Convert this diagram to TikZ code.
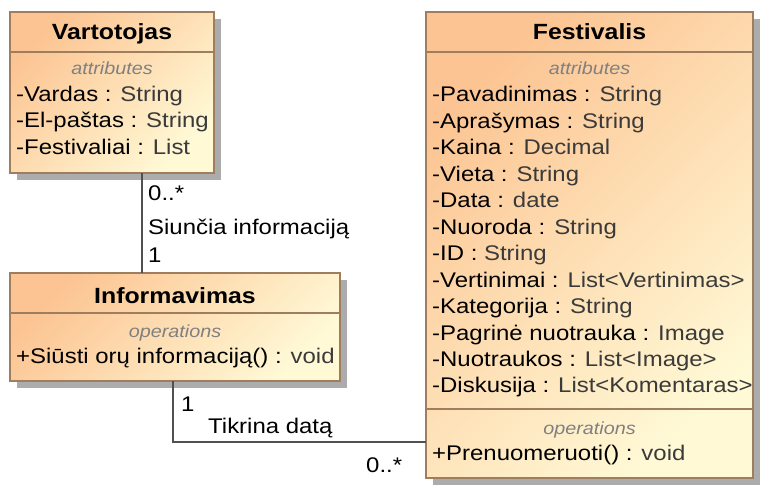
\documentclass[tikz,border=0pt]{standalone}
\usepackage{fontspec}
\setmainfont[FakeStretch=1.13]{Liberation Sans}
\usetikzlibrary{shadows}
\definecolor{orngA}{RGB}{252,196,146}
\definecolor{yelA}{RGB}{255,249,214}
\definecolor{bordc}{RGB}{158,126,94}
\definecolor{shadc}{RGB}{172,172,172}
\definecolor{typec}{RGB}{58,58,58}
\definecolor{stereoc}{RGB}{128,128,128}
\definecolor{linec}{RGB}{80,80,80}
\tikzset{
  umlbox/.style={draw=bordc, line width=1.8pt, rectangle, inner sep=0pt, outer sep=0pt,
    anchor=north west, top color=orngA, bottom color=yelA, shading angle=45,
    general shadow={shadow xshift=7pt, shadow yshift=-7pt, fill=shadc}},
  divider/.style={draw=bordc, line width=1.8pt},
  titletxt/.style={anchor=base, inner sep=0pt, font=\fontsize{22}{26}\selectfont\bfseries},
  stereotxt/.style={anchor=base, inner sep=0pt, text=stereoc, font=\fontsize{17.5}{22}\selectfont\itshape},
  membertxt/.style={anchor=base west, inner sep=0pt, font=\fontsize{21.2}{26}\selectfont},
  lbl/.style={anchor=base west, inner sep=0pt, font=\fontsize{21.2}{26}\selectfont},
  conn/.style={draw=linec, line width=1.6pt}
}
\begin{document}
\begin{tikzpicture}[x=1pt,y=-1pt]
\useasboundingbox (0,0) rectangle (769,495);
% boxes
\node[umlbox, minimum width=204pt, minimum height=161pt] (vart) at (10,12) {};
\node[umlbox, minimum width=327pt, minimum height=466pt] (fest) at (426,12) {};
\node[umlbox, minimum width=330pt, minimum height=108pt] (info) at (10,273) {};
% dividers
\draw[divider] (vart.west |- 0,52) -- (vart.east |- 0,52);
\draw[divider] (fest.west |- 0,52) -- (fest.east |- 0,52);
\draw[divider] (fest.west |- 0,409) -- (fest.east |- 0,409);
\draw[divider] (info.west |- 0,313) -- (info.east |- 0,313);
% Vartotojas
\node[titletxt] (vartT) at (112,40) {Vartotojas};
\node[stereotxt] (vartS) at (112,75) {attributes};
\node[membertxt] (va0) at (16,102) {-Vardas : \textcolor{typec}{String}};
\node[membertxt] (va1) at (16,128) {-El-paštas : \textcolor{typec}{String}};
\node[membertxt] (va2) at (16,154) {-Festivaliai : \textcolor{typec}{List}};
% Festivalis
\node[titletxt] (festT) at (589.5,40) {Festivalis};
\node[stereotxt] (festS) at (589.5,75) {attributes};
\foreach \n/\t [count=\i from 0] in {Pavadinimas/String, Aprašymas/String, Kaina/Decimal, Vieta/String, Data/date, Nuoroda/String, ID/String, Vertinimai/List<Vertinimas>, Kategorija/String, Pagrinė nuotrauka/Image, Nuotraukos/List<Image>, Diskusija/List<Komentaras>}
  \node[membertxt] (fa\i) at (432,{102+26.45*\i}) {-\n{} : \textcolor{typec}{\t}};
\node[stereotxt] (festO) at (589.5,434) {operations};
\node[membertxt] (fo0) at (432,460) {+Prenuomeruoti() : \textcolor{typec}{void}};
% Informavimas
\node[titletxt] (infoT) at (175,303) {Informavimas};
\node[stereotxt] (infoO) at (175,337) {operations};
\node[membertxt] (io0) at (16,363) {+Siūsti orų informaciją() : \textcolor{typec}{void}};
% connectors
\coordinate (c1) at (142,0);
\draw[conn] (c1 |- vart.south) -- (c1 |- info.north);
\coordinate (c2) at (173,442);
\draw[conn] (info.south -| c2) -- (c2) -- (c2 -| fest.west);
% labels
\node[lbl] (l1) at (148,200) {0..*};
\node[lbl] (l2) at (148,234) {Siunčia informaciją};
\node[lbl] (l3) at (148,262) {1};
\node[lbl] (l4) at (181,411) {1};
\node[lbl] (l5) at (208,433) {Tikrina datą};
\node[lbl] (l6) at (366,472) {0..*};
\end{tikzpicture}
\end{document}
